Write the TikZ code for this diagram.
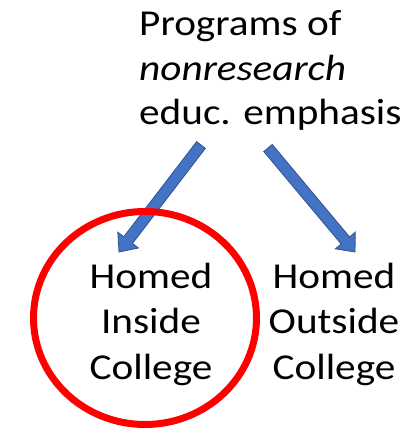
\documentclass[tikz,border=0pt]{standalone}
\usepackage{fontspec}
\setmainfont{Carlito}[FakeStretch=1.13]
\usetikzlibrary{calc}
\definecolor{arrowblue}{HTML}{4472C4}
\definecolor{arrowedge}{HTML}{2F528F}
\definecolor{ringred}{HTML}{FF0000}
\begin{document}
\begin{tikzpicture}[x=1pt, y=1pt,
        textblock/.style={inner sep=0pt, font=\fontsize{36.5}{46}\selectfont},
        fatarrow/.style={draw=arrowedge, fill=arrowblue, line width=0.8pt,
            to path={let \p1=($(\tikztotarget)-(\tikztostart)$), \n1={veclen(\x1,\y1)},
                \n2={atan2(\y1,\x1)}, \n3={\n1-15} in
                ($(\tikztostart)+({\n2+90}:5.5)$) -- ($(\tikztostart)+(\n2:\n3)+({\n2+90}:5.5)$)
                -- ($(\tikztostart)+(\n2:\n3)+({\n2+90}:13)$) -- (\tikztotarget)
                -- ($(\tikztostart)+(\n2:\n3)+({\n2-90}:13)$) -- ($(\tikztostart)+(\n2:\n3)+({\n2-90}:5.5)$)
                -- ($(\tikztostart)+({\n2-90}:5.5)$) -- cycle}},
        ring/.style={draw=ringred, line width=7pt}
    ]
    \useasboundingbox (0,0) rectangle (408,429);
    % Nodes
    \node[textblock, font=\fontsize{36.5}{44.5}\selectfont, align=left, anchor=base west] (programs) at (139,304)
        {Programs of\\\textit{nonresearch}\\educ. emphasis};
    \node[textblock, align=center, anchor=base] (inside) at (151,49) {Homed\\Inside\\College};
    \node[textblock, align=center, anchor=base] (outside) at (334,49) {Homed\\Outside\\College};

    % Arrows
    \draw[fatarrow] ([shift={(62,-20)}]programs.base west) to ([shift={(-32,128)}]inside.base);
    \draw[fatarrow] ([shift={(129,-23)}]programs.base west) to ([shift={(21,128)}]outside.base);

    % Circle round the chosen option
    \draw[ring] ([shift={(-6,62)}]inside.base) ellipse [x radius=111.5, y radius=106.5];
\end{tikzpicture}
\end{document}
